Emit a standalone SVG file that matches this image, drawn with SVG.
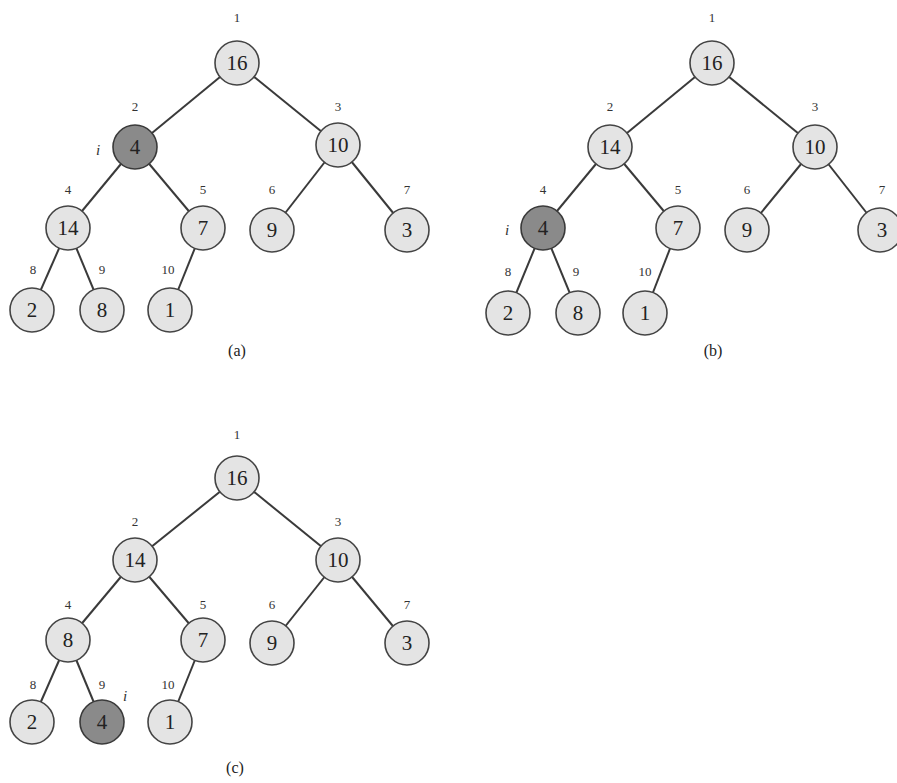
<svg xmlns="http://www.w3.org/2000/svg" width="897" height="783" viewBox="0 0 897 783">
<style>
.e{stroke:#3a3a3a;stroke-width:2;fill:none}
.n circle{fill:#e4e4e4;stroke:#444;stroke-width:1.6}
.n.d circle{fill:#8a8a8a;stroke:#3a3a3a}
.n text{font-family:"Liberation Serif",serif;font-size:21px;fill:#222;text-anchor:middle}
.l{font-family:"Liberation Serif",serif;font-size:13px;fill:#333;text-anchor:middle}
.i{font-family:"Liberation Serif",serif;font-size:15px;font-style:italic;fill:#333;text-anchor:middle}
.c{font-family:"Liberation Serif",serif;font-size:16px;fill:#222;text-anchor:middle}
</style>
<rect width="897" height="783" fill="#fff"/>
<g id="connectors">
<line class="e" x1="237" y1="63" x2="135" y2="147"/>
<line class="e" x1="237" y1="63" x2="338" y2="145"/>
<line class="e" x1="135" y1="147" x2="68" y2="228"/>
<line class="e" x1="135" y1="147" x2="203" y2="228"/>
<line class="e" x1="338" y1="145" x2="272" y2="230"/>
<line class="e" x1="338" y1="145" x2="407" y2="230"/>
<line class="e" x1="68" y1="228" x2="32" y2="310"/>
<line class="e" x1="68" y1="228" x2="102" y2="310"/>
<line class="e" x1="203" y1="228" x2="170" y2="310"/>
<line class="e" x1="712" y1="63" x2="610" y2="147"/>
<line class="e" x1="712" y1="63" x2="815" y2="147"/>
<line class="e" x1="610" y1="147" x2="543" y2="228"/>
<line class="e" x1="610" y1="147" x2="678" y2="228"/>
<line class="e" x1="815" y1="147" x2="747" y2="230"/>
<line class="e" x1="815" y1="147" x2="880" y2="230"/>
<line class="e" x1="543" y1="228" x2="508" y2="313"/>
<line class="e" x1="543" y1="228" x2="578" y2="313"/>
<line class="e" x1="678" y1="228" x2="645" y2="313"/>
<line class="e" x1="237" y1="478" x2="135" y2="560"/>
<line class="e" x1="237" y1="478" x2="338" y2="560"/>
<line class="e" x1="135" y1="560" x2="68" y2="640"/>
<line class="e" x1="135" y1="560" x2="203" y2="640"/>
<line class="e" x1="338" y1="560" x2="272" y2="643"/>
<line class="e" x1="338" y1="560" x2="407" y2="643"/>
<line class="e" x1="68" y1="640" x2="32" y2="722"/>
<line class="e" x1="68" y1="640" x2="102" y2="722"/>
<line class="e" x1="203" y1="640" x2="170" y2="722"/>
</g>
<g id="a1" class="n"><circle cx="237" cy="63" r="22"/><text x="237" y="70">16</text></g>
<g id="a2" class="n d"><circle cx="135" cy="147" r="22"/><text x="135" y="154">4</text></g>
<g id="a3" class="n"><circle cx="338" cy="145" r="22"/><text x="338" y="152">10</text></g>
<g id="a4" class="n"><circle cx="68" cy="228" r="22"/><text x="68" y="235">14</text></g>
<g id="a5" class="n"><circle cx="203" cy="228" r="22"/><text x="203" y="235">7</text></g>
<g id="a6" class="n"><circle cx="272" cy="230" r="22"/><text x="272" y="237">9</text></g>
<g id="a7" class="n"><circle cx="407" cy="230" r="22"/><text x="407" y="237">3</text></g>
<g id="a8" class="n"><circle cx="32" cy="310" r="22"/><text x="32" y="317">2</text></g>
<g id="a9" class="n"><circle cx="102" cy="310" r="22"/><text x="102" y="317">8</text></g>
<g id="a10" class="n"><circle cx="170" cy="310" r="22"/><text x="170" y="317">1</text></g>
<g id="a-labels">
<text class="l" x="237" y="22">1</text>
<text class="l" x="135" y="111">2</text>
<text class="l" x="338" y="111">3</text>
<text class="l" x="68" y="194">4</text>
<text class="l" x="203" y="194">5</text>
<text class="l" x="272" y="194">6</text>
<text class="l" x="407" y="194">7</text>
<text class="l" x="33" y="274">8</text>
<text class="l" x="102" y="274">9</text>
<text class="l" x="168" y="274">10</text>
<text class="i" x="98" y="155">i</text>
<text class="c" x="237" y="356">(a)</text>
</g>
<g id="b1" class="n"><circle cx="712" cy="63" r="22"/><text x="712" y="70">16</text></g>
<g id="b2" class="n"><circle cx="610" cy="147" r="22"/><text x="610" y="154">14</text></g>
<g id="b3" class="n"><circle cx="815" cy="147" r="22"/><text x="815" y="154">10</text></g>
<g id="b4" class="n d"><circle cx="543" cy="228" r="22"/><text x="543" y="235">4</text></g>
<g id="b5" class="n"><circle cx="678" cy="228" r="22"/><text x="678" y="235">7</text></g>
<g id="b6" class="n"><circle cx="747" cy="230" r="22"/><text x="747" y="237">9</text></g>
<g id="b7" class="n"><circle cx="880" cy="230" r="22"/><text x="882" y="237">3</text></g>
<g id="b8" class="n"><circle cx="508" cy="313" r="22"/><text x="508" y="320">2</text></g>
<g id="b9" class="n"><circle cx="578" cy="313" r="22"/><text x="578" y="320">8</text></g>
<g id="b10" class="n"><circle cx="645" cy="313" r="22"/><text x="645" y="320">1</text></g>
<g id="b-labels">
<text class="l" x="712" y="22">1</text>
<text class="l" x="610" y="111">2</text>
<text class="l" x="815" y="111">3</text>
<text class="l" x="543" y="194">4</text>
<text class="l" x="678" y="194">5</text>
<text class="l" x="747" y="194">6</text>
<text class="l" x="882" y="194">7</text>
<text class="l" x="508" y="276">8</text>
<text class="l" x="576" y="276">9</text>
<text class="l" x="645" y="276">10</text>
<text class="i" x="507" y="235">i</text>
<text class="c" x="713" y="356">(b)</text>
</g>
<g id="c1" class="n"><circle cx="237" cy="478" r="22"/><text x="237" y="485">16</text></g>
<g id="c2" class="n"><circle cx="135" cy="560" r="22"/><text x="135" y="567">14</text></g>
<g id="c3" class="n"><circle cx="338" cy="560" r="22"/><text x="338" y="567">10</text></g>
<g id="c4" class="n"><circle cx="68" cy="640" r="22"/><text x="68" y="647">8</text></g>
<g id="c5" class="n"><circle cx="203" cy="640" r="22"/><text x="203" y="647">7</text></g>
<g id="c6" class="n"><circle cx="272" cy="643" r="22"/><text x="272" y="650">9</text></g>
<g id="c7" class="n"><circle cx="407" cy="643" r="22"/><text x="407" y="650">3</text></g>
<g id="c8" class="n"><circle cx="32" cy="722" r="22"/><text x="32" y="729">2</text></g>
<g id="c9" class="n d"><circle cx="102" cy="722" r="22"/><text x="102" y="729">4</text></g>
<g id="c10" class="n"><circle cx="170" cy="722" r="22"/><text x="170" y="729">1</text></g>
<g id="c-labels">
<text class="l" x="237" y="439">1</text>
<text class="l" x="135" y="526">2</text>
<text class="l" x="338" y="526">3</text>
<text class="l" x="68" y="609">4</text>
<text class="l" x="203" y="609">5</text>
<text class="l" x="272" y="609">6</text>
<text class="l" x="407" y="609">7</text>
<text class="l" x="33" y="689">8</text>
<text class="l" x="102" y="689">9</text>
<text class="l" x="168" y="689">10</text>
<text class="i" x="125" y="701">i</text>
<text class="c" x="235" y="773">(c)</text>
</g>
</svg>
